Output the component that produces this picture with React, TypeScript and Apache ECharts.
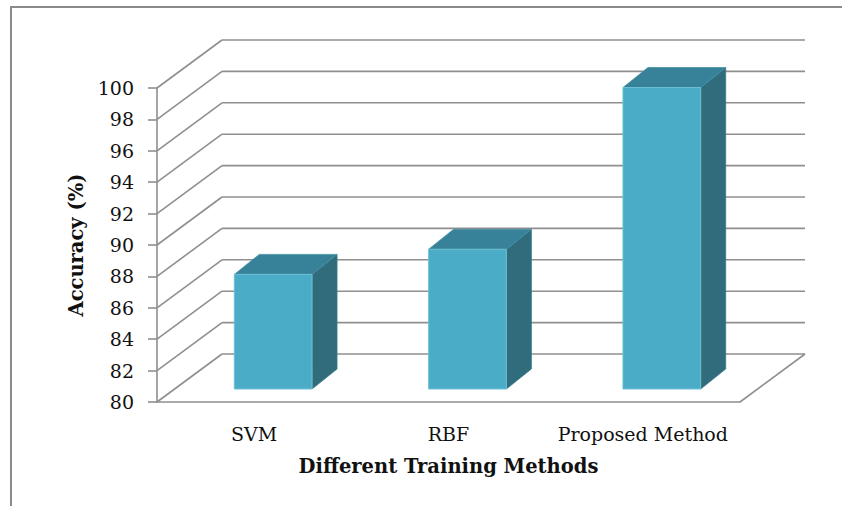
import React, { useEffect, useRef } from "react";
import * as echarts from "echarts";

const categories = ["SVM", "RBF", "Proposed Method"];
const accuracy = [87.3, 88.9, 99.2];
const yTicks = [80, 82, 84, 86, 88, 90, 92, 94, 96, 98, 100];
const yMin = 80;
const yMax = 100;
const yStep = 2;

const WALL_DX = 65;
const WALL_DY = 48;
const BAR_OFF_X = 19;
const BAR_OFF_Y = 13;
const BAR_DX = 25;
const BAR_DY = 20;
const BAR_FRAC = 0.4;

export default function App() {
  const ref = useRef<HTMLDivElement>(null);
  useEffect(() => {
    const chart = echarts.init(ref.current!, null, { renderer: "svg" });
    const gridColor = "#8f8f8f";
    const lineStyle = { stroke: gridColor, lineWidth: 1.6, fill: "none" };
    const textColor = "#111111";
    chart.setOption({
      animation: false,
      grid: { left: 157, right: 102, top: 88, bottom: 104 },
      graphic: [
        {
          type: "rect",
          silent: true,
          z: -10,
          shape: { x: 11, y: 7, width: 1000, height: 1000 },
          style: { fill: "none", stroke: "#8a8a8a", lineWidth: 2 },
        },
      ],
      xAxis: {
        type: "category",
        data: categories,
        axisLine: { show: true, lineStyle: { color: gridColor, width: 1.6 } },
        axisTick: { show: false },
        splitLine: { show: false },
        axisLabel: {
          interval: 0,
          fontFamily: "DejaVu Serif",
          fontSize: 19,
          color: textColor,
          margin: 22,
        },
        name: "Different Training Methods",
        nameLocation: "middle",
        nameGap: 54,
        nameTextStyle: {
          fontFamily: "DejaVu Serif",
          fontWeight: "bold",
          fontSize: 19.5,
          color: textColor,
        },
      },
      yAxis: {
        type: "value",
        min: yMin,
        max: yMax,
        interval: yStep,
        axisLine: { show: true, lineStyle: { color: gridColor, width: 1.6 } },
        axisTick: { show: true, length: 9, lineStyle: { color: gridColor, width: 1.6 } },
        splitLine: { show: false },
        axisLabel: {
          fontFamily: "DejaVu Serif",
          fontSize: 19,
          color: textColor,
          margin: 23,
        },
        name: "Accuracy (%)",
        nameLocation: "middle",
        nameRotate: 90,
        nameGap: 69,
        nameTextStyle: {
          fontFamily: "DejaVu Serif",
          fontWeight: "bold",
          fontSize: 19.5,
          color: textColor,
        },
      },
      series: [
        {
          type: "custom",
          coordinateSystem: "cartesian2d",
          silent: true,
          z: 1,
          encode: { x: 0, y: 1 },
          data: yTicks.map((v) => [0, v]),
          renderItem: (params: any, api: any) => {
            const v = api.value(1);
            const cs = params.coordSys;
            const left = cs.x;
            const right = cs.x + cs.width;
            const y = api.coord([0, v])[1];
            const children: any[] = [
              {
                type: "line",
                shape: { x1: left, y1: y, x2: left + WALL_DX, y2: y - WALL_DY },
                style: lineStyle,
              },
              {
                type: "line",
                shape: { x1: left + WALL_DX, y1: y - WALL_DY, x2: right + WALL_DX, y2: y - WALL_DY },
                style: lineStyle,
              },
            ];
            if (v === yMin) {
              children.push({
                type: "line",
                shape: { x1: right, y1: y, x2: right + WALL_DX, y2: y - WALL_DY },
                style: lineStyle,
              });
            }
            return { type: "group", children };
          },
        },
        {
          type: "custom",
          coordinateSystem: "cartesian2d",
          z: 5,
          encode: { x: 0, y: 1 },
          data: accuracy.map((v, i) => [i, v]),
          renderItem: (params: any, api: any) => {
            const idx = api.value(0);
            const v = api.value(1);
            const top = api.coord([idx, v]);
            const base = api.coord([idx, yMin]);
            const band = api.size([1, 0])[0];
            const w = band * BAR_FRAC;
            const x0 = top[0] - w / 2 + BAR_OFF_X;
            const x1 = x0 + w;
            const t = top[1] - BAR_OFF_Y;
            const b = base[1] - BAR_OFF_Y;
            return {
              type: "group",
              children: [
                {
                  type: "polygon",
                  shape: {
                    points: [
                      [x1, t],
                      [x1 + BAR_DX, t - BAR_DY],
                      [x1 + BAR_DX, b - BAR_DY],
                      [x1, b],
                    ],
                  },
                  style: { fill: "#306c7b", stroke: "#3a7a8a", lineWidth: 0.8 },
                },
                {
                  type: "polygon",
                  shape: {
                    points: [
                      [x0, t],
                      [x1, t],
                      [x1 + BAR_DX, t - BAR_DY],
                      [x0 + BAR_DX, t - BAR_DY],
                    ],
                  },
                  style: { fill: "#378298", stroke: "#4590a5", lineWidth: 0.8 },
                },
                {
                  type: "rect",
                  shape: { x: x0, y: t, width: w, height: b - t },
                  style: { fill: "#4aacc7", stroke: "#6cc0d6", lineWidth: 1 },
                },
              ],
            };
          },
        },
      ],
    });
    return () => chart.dispose();
  }, []);
  return (
    <div
      ref={ref}
      style={{ position: "fixed", left: 0, top: 0, width: 842, height: 506, background: "#ffffff" }}
    />
  );
}
